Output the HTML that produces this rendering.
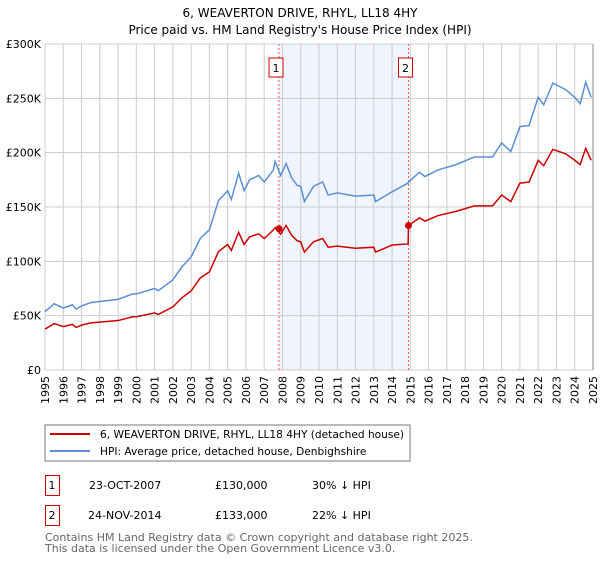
<!DOCTYPE html>
<html><head><meta charset="utf-8"><style>
body{margin:0;background:#fff;width:600px;height:560px;overflow:hidden}
svg{font-family:"DejaVu Sans","Liberation Sans",sans-serif}
</style></head><body>
<svg id="c" width="600" height="560" xmlns="http://www.w3.org/2000/svg">
<text x="300" y="17" text-anchor="middle" font-size="12">6, WEAVERTON DRIVE, RHYL, LL18 4HY</text>
<text x="300" y="34" text-anchor="middle" font-size="12">Price paid vs. HM Land Registry's House Price Index (HPI)</text>
<g id="plot"></g>
<rect x="45" y="425" width="365" height="36" fill="#fff" stroke="#777"/>
<line x1="50" y1="434" x2="90" y2="434" stroke="#cc0000" stroke-width="2"/>
<text x="100" y="438" font-size="10.6">6, WEAVERTON DRIVE, RHYL, LL18 4HY (detached house)</text>
<line x1="50" y1="451" x2="90" y2="451" stroke="#5b8fd4" stroke-width="2"/>
<text x="100" y="455" font-size="10.6">HPI: Average price, detached house, Denbighshire</text>
<g font-size="11">
<rect x="45.5" y="475.5" width="14" height="20" fill="none" stroke="#cc0000"/>
<text x="52" y="489" text-anchor="middle">1</text>
<text x="89" y="489">23-OCT-2007</text>
<text x="215" y="489">£130,000</text>
<text x="312" y="489">30% ↓ HPI</text>
<rect x="45.5" y="505.5" width="14" height="20" fill="none" stroke="#cc0000"/>
<text x="52" y="519" text-anchor="middle">2</text>
<text x="88" y="519">24-NOV-2014</text>
<text x="215" y="519">£133,000</text>
<text x="312" y="519">22% ↓ HPI</text>
</g>
<text x="45" y="541" font-size="11" fill="#666">Contains HM Land Registry data © Crown copyright and database right 2025.</text>
<text x="45" y="552" font-size="11" fill="#666">This data is licensed under the Open Government Licence v3.0.</text>
</svg>
<script>
const hpiYears=[1995.0,1995.5,1996.0,1996.5,1996.7,1997.0,1997.5,1998.0,1999.0,1999.8,2000.0,2001.0,2001.2,2002.0,2002.5,2003.0,2003.5,2004.0,2004.5,2005.0,2005.2,2005.6,2005.9,2006.2,2006.7,2007.0,2007.5,2007.6,2007.9,2008.2,2008.5,2008.8,2009.0,2009.2,2009.7,2010.2,2010.5,2011.0,2012.0,2013.0,2013.1,2014.0,2014.88,2014.9,2015.5,2015.8,2016.5,2017.5,2018.5,2019.5,2020.0,2020.5,2021.0,2021.5,2022.0,2022.3,2022.8,2023.5,2024.0,2024.3,2024.6,2024.9];
const hpiValues=[53.7,61,57,60,56,59,62,63,65,70,70,75,73,83,95,104,121,129,156,165,157,181,165,175,179,173,184,192,179,190,177,170,169,155,169,173,161,163,160,161,155,164,172,173,182,178,184,189,196,196,209,201,224,225,251,244,264,258,251,245,265,251];
const priceValues=[37.6,42.7,39.9,42,39.2,41.3,43.4,44.1,45.5,49,49,52.5,51.1,58.1,66.5,72.8,84.7,90.3,109,115.5,110,126.7,115.5,122.5,125.3,121,128.8,131,125,133,124,119,118,108.5,118,121,113,114,112,113,108.5,115,116,133,140,137,142,146,151,151,161,155,172,173,193,188,203,199,193,189,204,193];
const saleYears=[2007.81,2014.9];
const saleValues=[130,133];
const saleLabels=["1","2"];
const yTicks=[0,50,100,150,200,250,300];
const yTickLabels=["£0","£50K","£100K","£150K","£200K","£250K","£300K"];
const xYears=[1995,1996,1997,1998,1999,2000,2001,2002,2003,2004,2005,2006,2007,2008,2009,2010,2011,2012,2013,2014,2015,2016,2017,2018,2019,2020,2021,2022,2023,2024,2025];

const L=45,R=593,T=44,B=370;
const xs=y=>L+(y-1995)/30*(R-L);
const ys=v=>B-v/300*(B-T);
const NS="http://www.w3.org/2000/svg";
const g=document.getElementById('plot');
function mk(t,a){const e=document.createElementNS(NS,t);for(const k in a)e.setAttribute(k,a[k]);g.appendChild(e);return e;}

const shade=mk('rect',{x:xs(saleYears[0]),y:T,width:xs(saleYears[1])-xs(saleYears[0]),height:B-T,fill:'#f0f4fd'});



xYears.forEach(yr=>{
 const l=mk('line',{x1:xs(yr),x2:xs(yr),y1:T,y2:B,stroke:'#ccc','stroke-width':1});
 
 
 const t=mk('text',{x:0,y:0,'font-size':11,'text-anchor':'end',transform:`translate(${xs(yr)+4},${B+6}) rotate(-90)`});
 t.textContent=yr;
 
 
});
yTicks.forEach((v,i)=>{
 const l=mk('line',{x1:L,x2:R,y1:ys(v),y2:ys(v),stroke:'#ccc','stroke-width':1});
 
 
 const t=mk('text',{x:L-4,y:ys(v)+4,'font-size':11,'text-anchor':'end'});
 t.textContent=yTickLabels[i];
 
 
});
const ax=mk('line',{x1:R,x2:R,y1:T,y2:B,stroke:'#888'});



saleYears.forEach((yr,i)=>{
 const l=mk('line',{x1:xs(yr),x2:xs(yr),y1:T,y2:B,stroke:'#f06060','stroke-dasharray':'2,2'});
 
 
 const b=mk('rect',{x:xs(yr)-10,y:58,width:14,height:19,fill:'#fff',stroke:'#cc0000'});
 
 
 const t=mk('text',{x:xs(yr)-3,y:72,'font-size':11,'text-anchor':'middle'});
 t.textContent=saleLabels[i];
 
 
});

const hp=mk('polyline',{points:hpiYears.map((y,i)=>xs(y)+','+ys(hpiValues[i])).join(' '),fill:'none',stroke:'#5b8fd4','stroke-width':1.5});


const pp=mk('polyline',{points:hpiYears.map((y,i)=>xs(y)+','+ys(priceValues[i])).join(' '),fill:'none',stroke:'#cc0000','stroke-width':1.5});


saleYears.forEach((yr,i)=>{
 const c=mk('circle',{cx:xs(yr),cy:ys(saleValues[i]),r:3.5,fill:'#cc0000'});
 
 
});
</script>
</body></html>
